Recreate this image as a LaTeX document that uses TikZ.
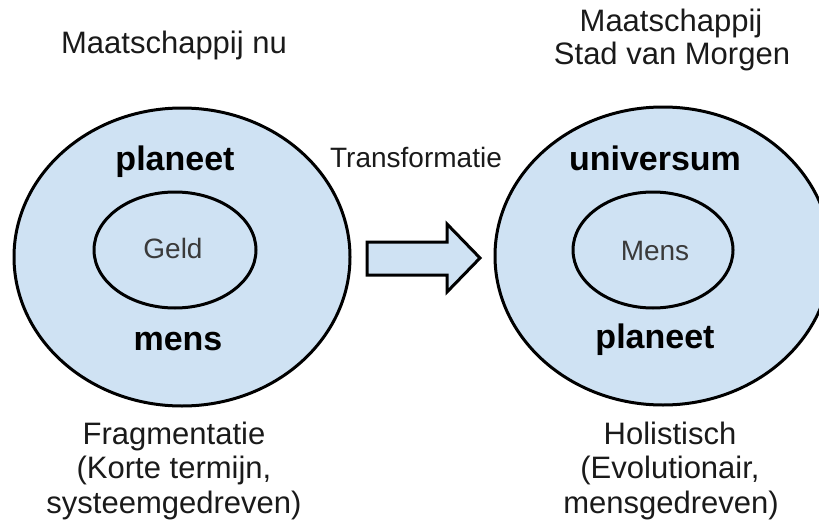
\documentclass[tikz,border=0pt]{standalone}
\usepackage{fontspec}
\setmainfont{Liberation Sans}
\usetikzlibrary{shapes.geometric}
\definecolor{fillblue}{HTML}{CFE2F3}
\definecolor{txt}{HTML}{1A1A1A}
\definecolor{inner}{HTML}{3A3A3A}
\tikzset{
  outerell/.style={ellipse, draw=black, line width=3pt, fill=fillblue, inner sep=0pt},
  innerell/.style={ellipse, draw=black, line width=3pt, fill=fillblue, inner sep=0pt, minimum width=162pt, minimum height=116pt},
  title/.style={font=\fontsize{31}{34.5}\selectfont, text=txt, anchor=base, inner sep=0pt, align=center},
  boldlbl/.style={font=\fontsize{34}{38}\selectfont\bfseries, text=black, anchor=base, inner sep=0pt},
  innerlbl/.style={font=\fontsize{28}{32}\selectfont, text=inner, anchor=base, inner sep=0pt},
  bigarrow/.style={draw=black, line width=3pt, fill=fillblue, line join=miter}
}
\begin{document}
\begin{tikzpicture}[x=1pt,y=-1pt]
\useasboundingbox (0,0) rectangle (819,527);
\begin{scope}
\clip (0,0) rectangle (819,527);
% left group
\node[outerell, minimum width=336pt, minimum height=298pt] (L) at (182,257) {};
\node[innerell] (Li) at (175,250) {};
% right group
\node[outerell, minimum width=336pt, minimum height=298pt] (R) at (663,256) {};
\node[innerell, minimum width=160pt] (Ri) at (653,250) {};
\end{scope}
% labels inside left
\node[boldlbl] (Lp) at (175,170) {planeet};
\node[innerlbl] (Lg) at (173,258) {Geld};
\node[boldlbl] (Lm) at (178,350) {mens};
% labels inside right
\node[boldlbl] (Ru) at (655,170) {universum};
\node[innerlbl] (Rm) at (655,260) {Mens};
\node[boldlbl] (Rp) at (655,348) {planeet};
% arrow
\draw[bigarrow] (367,242) -- (447,242) -- (447,224) -- (480,258) -- (447,292) -- (447,275) -- (367,275) -- cycle;
\node[title, font=\fontsize{28}{32}\selectfont] (T) at (416,167) {Transformatie};
% titles
\node[title] (LT) at (174,53) {Maatschappij nu};
\node[title] (RT1) at (671,32) {Maatschappij};
\node[title] (RT2) at (672,65) {Stad van Morgen};
% bottom captions
\node[title] (LB1) at (174,444) {Fragmentatie};
\node[title] (LB2) at (174,478.5) {(Korte termijn,};
\node[title] (LB3) at (174,513) {systeemgedreven)};
\node[title] (RB1) at (670,444) {Holistisch};
\node[title] (RB2) at (670,478.5) {(Evolutionair,};
\node[title] (RB3) at (671,513) {mensgedreven)};
\end{tikzpicture}
\end{document}
